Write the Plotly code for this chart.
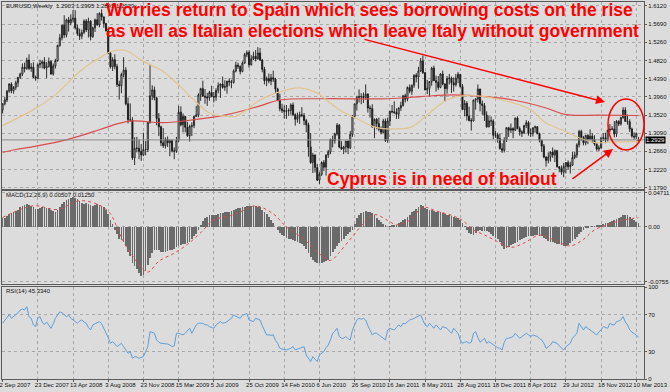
import pandas as pd
import plotly.graph_objects as go
from plotly.subplots import make_subplots

# ---------------- data (weekly EURUSD) ----------------
weeks = pd.date_range("2007-09-02", periods=290, freq="7D")

opens = [
1.364,1.379,1.388,1.409,1.426,1.410,1.418,1.429,1.442,1.450,
1.466,1.463,1.483,1.463,1.466,1.442,1.440,1.472,1.475,1.479,
1.464,1.468,1.480,1.450,1.469,1.482,1.518,1.536,1.566,1.543,
1.579,1.572,1.580,1.583,1.560,1.546,1.540,1.549,1.576,1.555,
1.576,1.539,1.560,1.579,1.567,1.594,1.586,1.570,1.553,1.500,
1.467,1.484,1.468,1.425,1.422,1.449,1.459,1.379,1.341,1.340,
1.250,1.273,1.273,1.265,1.257,1.270,1.270,1.334,1.398,1.412,
1.393,1.344,1.324,1.286,1.279,1.294,1.286,1.291,1.267,1.266,
1.292,1.359,1.329,1.349,1.323,1.303,1.325,1.327,1.349,1.352,
1.400,1.415,1.397,1.395,1.393,1.406,1.396,1.395,1.411,1.422,
1.426,1.418,1.420,1.433,1.431,1.430,1.457,1.471,1.468,1.456,
1.476,1.496,1.501,1.472,1.486,1.492,1.486,1.500,1.483,1.461,
1.434,1.439,1.433,1.441,1.438,1.414,1.387,1.367,1.363,1.361,
1.362,1.363,1.376,1.353,1.342,1.348,1.353,1.351,1.339,1.329,
1.276,1.239,1.257,1.227,1.197,1.211,1.239,1.228,1.257,1.264,
1.294,1.291,1.307,1.328,1.276,1.271,1.276,1.290,1.274,1.306,
1.349,1.379,1.394,1.396,1.396,1.394,1.402,1.369,1.368,1.324,
1.342,1.332,1.318,1.311,1.338,1.291,1.338,1.361,1.360,1.358,
1.354,1.369,1.375,1.398,1.390,1.418,1.409,1.423,1.447,1.443,
1.457,1.481,1.453,1.412,1.416,1.432,1.464,1.434,1.430,1.418,
1.450,1.426,1.415,1.439,1.440,1.429,1.424,1.440,1.449,1.420,
1.365,1.380,1.350,1.339,1.338,1.388,1.390,1.414,1.379,1.375,
1.352,1.324,1.338,1.338,1.304,1.305,1.296,1.272,1.268,1.293,
1.322,1.316,1.320,1.316,1.345,1.320,1.312,1.309,1.327,1.334,
1.308,1.308,1.322,1.324,1.308,1.292,1.278,1.252,1.244,1.252,
1.264,1.257,1.267,1.229,1.225,1.216,1.230,1.239,1.229,1.233,
1.251,1.257,1.281,1.313,1.298,1.286,1.304,1.295,1.302,1.294,
1.283,1.271,1.274,1.297,1.298,1.293,1.316,1.318,1.319,1.307,
1.337,1.331,1.346,1.364,1.337,1.336,1.319,1.302,1.300,1.2903]

highs = [
1.380,1.395,1.412,1.428,1.430,1.421,1.434,1.443,1.453,1.475,
1.477,1.489,1.497,1.476,1.478,1.446,1.475,1.484,1.483,1.490,
1.478,1.489,1.482,1.475,1.486,1.520,1.545,1.568,1.590,1.582,
1.586,1.592,1.602,1.602,1.568,1.558,1.556,1.580,1.581,1.584,
1.578,1.563,1.582,1.595,1.597,1.604,1.587,1.572,1.556,1.503,
1.490,1.497,1.474,1.434,1.453,1.490,1.466,1.394,1.380,1.347,
1.299,1.300,1.294,1.283,1.310,1.290,1.337,1.472,1.423,1.420,
1.396,1.357,1.327,1.321,1.299,1.301,1.294,1.294,1.275,1.300,
1.374,1.373,1.356,1.350,1.336,1.329,1.335,1.351,1.374,1.404,
1.417,1.434,1.414,1.405,1.410,1.422,1.407,1.416,1.430,1.427,
1.444,1.435,1.433,1.440,1.436,1.461,1.479,1.477,1.470,1.480,
1.500,1.506,1.506,1.495,1.503,1.507,1.514,1.512,1.486,1.467,
1.444,1.451,1.450,1.458,1.441,1.417,1.403,1.379,1.375,1.376,
1.368,1.380,1.382,1.356,1.358,1.360,1.371,1.357,1.343,1.334,
1.309,1.262,1.258,1.236,1.216,1.242,1.245,1.258,1.269,1.296,
1.303,1.310,1.333,1.331,1.290,1.279,1.291,1.291,1.314,1.352,
1.379,1.398,1.413,1.404,1.406,1.425,1.404,1.375,1.378,1.344,
1.345,1.346,1.325,1.343,1.344,1.346,1.362,1.376,1.385,1.368,
1.370,1.384,1.400,1.403,1.420,1.425,1.425,1.449,1.452,1.467,
1.488,1.494,1.455,1.436,1.432,1.467,1.470,1.446,1.445,1.452,
1.458,1.428,1.445,1.450,1.444,1.442,1.450,1.455,1.450,1.426,
1.388,1.385,1.372,1.345,1.388,1.392,1.425,1.415,1.387,1.381,
1.361,1.350,1.349,1.342,1.314,1.310,1.308,1.285,1.299,1.323,
1.324,1.332,1.323,1.346,1.349,1.325,1.316,1.329,1.340,1.338,
1.320,1.322,1.327,1.326,1.310,1.293,1.283,1.254,1.263,1.265,
1.275,1.270,1.269,1.230,1.232,1.238,1.240,1.244,1.241,1.264,
1.264,1.285,1.317,1.317,1.302,1.304,1.306,1.318,1.309,1.304,
1.286,1.280,1.300,1.309,1.310,1.317,1.331,1.326,1.338,1.340,
1.340,1.348,1.371,1.371,1.353,1.342,1.322,1.311,1.311,1.2995]

lows = [
1.356,1.375,1.383,1.405,1.404,1.403,1.412,1.419,1.438,1.445,
1.454,1.460,1.459,1.455,1.440,1.434,1.437,1.464,1.463,1.461,
1.440,1.465,1.448,1.446,1.463,1.479,1.515,1.530,1.536,1.537,
1.551,1.566,1.573,1.556,1.541,1.531,1.533,1.545,1.550,1.537,
1.530,1.536,1.550,1.565,1.561,1.577,1.560,1.551,1.497,1.463,
1.457,1.461,1.419,1.389,1.404,1.442,1.375,1.332,1.337,1.245,
1.233,1.263,1.247,1.243,1.254,1.256,1.264,1.332,1.388,1.387,
1.328,1.302,1.278,1.274,1.272,1.276,1.254,1.263,1.247,1.262,
1.288,1.325,1.311,1.311,1.300,1.289,1.302,1.321,1.348,1.347,
1.386,1.396,1.379,1.374,1.386,1.395,1.382,1.386,1.404,1.393,
1.415,1.410,1.403,1.421,1.416,1.427,1.454,1.462,1.449,1.454,
1.474,1.490,1.465,1.470,1.483,1.480,1.484,1.481,1.454,1.425,
1.421,1.428,1.423,1.431,1.403,1.385,1.361,1.357,1.344,1.343,
1.350,1.353,1.350,1.327,1.334,1.331,1.347,1.328,1.311,1.253,
1.236,1.214,1.215,1.195,1.188,1.207,1.219,1.208,1.250,1.259,
1.275,1.284,1.303,1.273,1.269,1.259,1.263,1.259,1.271,1.300,
1.346,1.363,1.382,1.378,1.381,1.389,1.358,1.346,1.322,1.297,
1.318,1.313,1.306,1.308,1.288,1.286,1.326,1.356,1.355,1.343,
1.343,1.362,1.372,1.382,1.385,1.404,1.400,1.417,1.430,1.415,
1.455,1.450,1.411,1.402,1.397,1.422,1.434,1.408,1.412,1.416,
1.423,1.384,1.403,1.425,1.405,1.408,1.420,1.428,1.418,1.364,
1.349,1.339,1.337,1.315,1.337,1.365,1.382,1.361,1.353,1.338,
1.322,1.323,1.326,1.295,1.298,1.286,1.270,1.262,1.263,1.288,
1.300,1.309,1.297,1.314,1.318,1.303,1.300,1.308,1.321,1.303,
1.300,1.301,1.310,1.306,1.287,1.264,1.249,1.229,1.237,1.241,
1.250,1.240,1.227,1.216,1.210,1.204,1.213,1.222,1.213,1.231,
1.247,1.250,1.275,1.291,1.280,1.280,1.283,1.292,1.286,1.279,
1.267,1.266,1.272,1.290,1.285,1.289,1.311,1.316,1.299,1.300,
1.326,1.327,1.343,1.336,1.329,1.312,1.298,1.294,1.295,1.2843]

closes = [
1.379,1.388,1.409,1.426,1.410,1.418,1.429,1.442,1.450,1.466,
1.463,1.483,1.463,1.466,1.442,1.440,1.472,1.475,1.479,1.464,
1.468,1.480,1.450,1.469,1.482,1.518,1.536,1.566,1.543,1.579,
1.572,1.580,1.583,1.560,1.546,1.540,1.549,1.576,1.555,1.576,
1.539,1.560,1.579,1.567,1.594,1.586,1.570,1.553,1.500,1.467,
1.484,1.468,1.425,1.422,1.449,1.459,1.379,1.341,1.340,1.250,
1.273,1.273,1.265,1.257,1.270,1.270,1.334,1.398,1.412,1.393,
1.344,1.324,1.286,1.279,1.294,1.286,1.291,1.267,1.266,1.292,
1.359,1.329,1.349,1.323,1.303,1.325,1.327,1.349,1.352,1.400,
1.415,1.397,1.395,1.393,1.406,1.396,1.395,1.411,1.422,1.426,
1.418,1.420,1.433,1.431,1.430,1.457,1.471,1.468,1.456,1.476,
1.496,1.501,1.472,1.486,1.492,1.486,1.500,1.483,1.461,1.434,
1.439,1.433,1.441,1.438,1.414,1.387,1.367,1.363,1.361,1.362,
1.363,1.376,1.353,1.342,1.348,1.353,1.351,1.339,1.329,1.276,
1.239,1.257,1.227,1.197,1.211,1.239,1.228,1.257,1.264,1.294,
1.291,1.307,1.328,1.276,1.271,1.276,1.290,1.274,1.306,1.349,
1.379,1.394,1.396,1.396,1.394,1.402,1.369,1.368,1.324,1.342,
1.332,1.318,1.311,1.338,1.291,1.338,1.361,1.360,1.358,1.354,
1.369,1.375,1.398,1.390,1.418,1.409,1.423,1.447,1.443,1.457,
1.481,1.453,1.412,1.416,1.432,1.464,1.434,1.430,1.418,1.450,
1.426,1.415,1.439,1.440,1.429,1.424,1.440,1.449,1.420,1.365,
1.380,1.350,1.339,1.338,1.388,1.390,1.414,1.379,1.375,1.352,
1.324,1.338,1.338,1.304,1.305,1.296,1.272,1.268,1.293,1.322,
1.316,1.320,1.316,1.345,1.320,1.312,1.309,1.327,1.334,1.308,
1.308,1.322,1.324,1.308,1.292,1.278,1.252,1.244,1.252,1.264,
1.257,1.267,1.229,1.225,1.216,1.230,1.239,1.229,1.233,1.251,
1.257,1.281,1.313,1.298,1.286,1.304,1.295,1.302,1.294,1.283,
1.271,1.274,1.297,1.298,1.293,1.316,1.318,1.319,1.307,1.337,
1.331,1.346,1.364,1.337,1.336,1.319,1.302,1.300,1.308,1.2929]

# moving averages, read at sampled weeks
ma_slow_weeks = [0,6,14,29,44,52,59,73,87,102,117,126,146,175,190,205,219,232,247,256,271,289]
ma_slow = [1.263,1.270,1.277,1.293,1.317,1.331,1.338,1.334,1.341,1.353,1.374,1.388,
           1.391,1.391,1.396,1.400,1.396,1.388,1.369,1.353,1.352,1.351]
ma_fast_weeks = [0,14,23,36,44,49,56,64,73,79,87,94,102,106,111,117,125,135,143,146,153,
                 162,170,179,186,194,202,211,219,232,240,247,256,262,270,277,289]
ma_fast = [1.327,1.365,1.396,1.460,1.488,1.503,1.506,1.480,1.456,1.429,1.388,1.357,1.349,
           1.349,1.365,1.388,1.406,1.417,1.405,1.393,1.365,1.341,1.322,1.319,1.324,1.357,
           1.388,1.399,1.396,1.381,1.365,1.333,1.313,1.298,1.286,1.288,1.289]

macd = [
0.012,0.013,0.015,0.018,0.019,0.020,0.022,0.024,0.027,0.029,
0.030,0.031,0.030,0.029,0.027,0.025,0.025,0.026,0.027,0.027,
0.026,0.026,0.024,0.022,0.021,0.023,0.027,0.032,0.034,0.037,
0.039,0.040,0.041,0.040,0.038,0.035,0.033,0.032,0.033,0.032,
0.030,0.029,0.030,0.031,0.030,0.029,0.027,0.024,0.018,0.010,
0.004,-0.004,-0.010,-0.016,-0.018,-0.020,-0.026,-0.034,-0.040,-0.050,
-0.054,-0.058,-0.063,-0.067,-0.066,-0.060,-0.052,-0.043,-0.036,-0.032,
-0.031,-0.032,-0.034,-0.035,-0.034,-0.033,-0.032,-0.031,-0.030,-0.028,
-0.026,-0.025,-0.024,-0.024,-0.022,-0.020,-0.017,-0.013,-0.009,-0.004,
0.003,0.008,0.012,0.014,0.016,0.017,0.017,0.017,0.018,0.019,
0.019,0.020,0.020,0.021,0.022,0.023,0.025,0.026,0.026,0.027,
0.028,0.029,0.029,0.029,0.029,0.029,0.028,0.027,0.024,0.021,
0.018,0.014,0.010,0.005,0.000,-0.004,-0.008,-0.011,-0.013,-0.015,
-0.016,-0.017,-0.018,-0.019,-0.020,-0.022,-0.024,-0.026,-0.030,-0.036,
-0.041,-0.045,-0.048,-0.050,-0.050,-0.049,-0.048,-0.047,-0.045,-0.040,
-0.035,-0.030,-0.026,-0.022,-0.019,-0.017,-0.013,-0.010,-0.007,-0.004,
0.004,0.012,0.016,0.019,0.021,0.022,0.021,0.020,0.019,0.017,
0.013,0.010,0.007,0.004,0.002,0.000,0.001,0.002,0.003,0.003,
0.005,0.007,0.009,0.011,0.014,0.017,0.020,0.022,0.025,0.028,
0.030,0.029,0.026,0.025,0.024,0.023,0.022,0.021,0.020,0.020,
0.019,0.018,0.017,0.016,0.015,0.014,0.013,0.012,0.010,0.005,
0.001,-0.004,-0.008,-0.010,-0.011,-0.008,-0.005,-0.004,-0.005,-0.005,
-0.006,-0.007,-0.009,-0.012,-0.015,-0.017,-0.021,-0.026,-0.030,-0.029,
-0.027,-0.025,-0.024,-0.022,-0.020,-0.018,-0.016,-0.015,-0.014,-0.013,
-0.012,-0.012,-0.011,-0.011,-0.012,-0.013,-0.015,-0.017,-0.019,-0.020,
-0.021,-0.022,-0.023,-0.024,-0.025,-0.026,-0.026,-0.025,-0.022,-0.019,
-0.016,-0.014,-0.010,-0.007,-0.004,-0.002,-0.001,0.000,0.001,0.001,
0.002,0.002,0.003,0.004,0.005,0.006,0.007,0.008,0.009,0.011,
0.012,0.014,0.016,0.017,0.016,0.014,0.011,0.009,0.007,0.00507]

signal_weeks = [0,14,25,35,44,49,53,56,59,62,66,71,78,84,90,96,102,109,115,123,129,137,144,
                149,153,159,164,169,175,179,185,191,197,205,209,214,219,223,231,237,244,250,
                258,264,269,275,281,287,289]
signal = [0.013,0.029,0.024,0.036,0.030,0.018,-0.008,-0.026,-0.039,-0.052,-0.062,-0.047,
          -0.036,-0.024,-0.008,0.010,0.014,0.022,0.029,0.018,0.000,-0.017,-0.037,-0.046,
          -0.035,-0.013,0.005,0.017,0.009,0.003,0.009,0.027,0.022,0.015,0.009,-0.004,
          -0.011,-0.017,-0.028,-0.022,-0.011,-0.017,-0.026,-0.017,-0.004,0.003,0.009,
          0.012,0.0125]

rsi = [
60.6,64,67.8,70,66,68,69,72,75,76,
75,78.7,67.8,66,58.8,57,66,67.8,62,59,
62,58,55,60,66,69.6,73,72,70,67.8,
69.6,66,64.2,62,60.6,63,64.2,62,60.6,56,
53.3,58.8,60,61,62.4,60,55,51,45,38.8,
40.6,38,35.2,37,38.8,35.2,31,27.9,29.8,22.5,
24.3,24,22.5,23,24.3,30,35.2,51.5,50.5,49.7,
42.4,40,38.8,38.8,38.8,38,37,35.2,36,49.7,
49.7,49,47.9,49.7,52,55.1,49.7,55,58.8,60.6,
60.6,60.6,59,58.8,56.9,56,55.1,58.8,61,62.4,
60.6,61,62.4,64.2,66,69.6,67.8,67,66,69.6,
70,71.4,64.2,63,62.4,66,65,64.2,58,53.3,
47.9,48,47.5,47.9,42,38.8,33.4,32.5,32,31.6,
32.5,33.4,35.2,31.6,32.5,33.4,34,35.2,26.1,22,
18.9,24.3,21,18.9,26.1,28,29.8,34,37,42.4,
49.7,52,55.1,46.1,44.3,44.3,46.1,44,42.4,53.3,
58,64.2,66,65,66,64.2,58,53.3,47.9,49.7,
49.7,47.9,46.1,44,42.4,53.3,55.1,54,53.3,56,
58.8,56.9,60.6,60,62.4,64.2,64.8,66,67.8,69,
69.6,64,58.8,56.9,60.6,58,55.1,58.8,56,53.3,
56.9,56,55.1,52,49.7,55.1,52,49.7,42.4,38.8,
40,40.6,38.8,40,49.7,51.5,45,40,42,44.3,
38.8,40.6,39,37,35.2,34,33.4,31.6,40,44.3,
44.3,45,46.1,49.7,47,44.3,46,47.9,49.7,48,
46.1,47.9,47,46.1,44,42.4,38.8,33.4,35,37,
40.6,39.5,38.8,36,33.4,31.6,35,37,38.8,44.3,
47,49.7,60.6,57,53.3,56.9,55,53.3,51,49.7,
47.9,51,53.3,56.9,56,55.1,60.6,59,58.8,62.4,
63,64.2,67.8,62,58.8,53.3,51,49.7,47.9,45.334]

price_ticks = [1.6120,1.5690,1.5260,1.4820,1.4390,1.3960,1.3520,1.3090,1.2660,1.2220,1.1790]
macd_ticks = [0.04711, 0.0, -0.0755]
macd_tick_text = ["0.04711", "0.00", "-0.0755"]
rsi_ticks = [100, 70, 30, 0]
date_tick_weeks = list(range(0, 290, 16))

for name, arr in [("opens", opens), ("highs", highs), ("lows", lows), ("closes", closes),
                  ("macd", macd), ("rsi", rsi)]:
    if len(arr) != len(weeks):
        raise SystemExit(f"{name} has {len(arr)} values")

# ---------------- geometry helpers ----------------
W, H = 670, 392
ML, MR, MT, MB = 2, 26, 2, 13
PW, PH = W - ML - MR, H - MT - MB


def px(x):
    return (x - ML) / PW


def py(y):
    return (H - MB - y) / PH


BG = "#dcdcdc"
FRAME = "#5a5a5a"
GRID = "#a8a8a8"
FAM = "Liberation Sans, Arial, sans-serif"
SMALL = dict(family=FAM, size=6.0, color="#111111")
RED = "#ff0000"

fig = make_subplots(rows=3, cols=1, shared_xaxes=True, vertical_spacing=0)

fig.add_trace(go.Candlestick(
    x=weeks, open=opens, high=highs, low=lows, close=closes,
    increasing=dict(line=dict(color="#1a1a1a", width=0.9), fillcolor="#f4f4f4"),
    decreasing=dict(line=dict(color="#1a1a1a", width=0.9), fillcolor="#1a1a1a"),
    whiskerwidth=0, showlegend=False, hoverinfo="skip"), row=1, col=1)

fig.add_trace(go.Scatter(x=[weeks[i] for i in ma_slow_weeks], y=ma_slow, mode="lines",
                         line=dict(color="#d94c4c", width=1.2, shape="spline"),
                         hoverinfo="skip"), row=1, col=1)
fig.add_trace(go.Scatter(x=[weeks[i] for i in ma_fast_weeks], y=ma_fast, mode="lines",
                         line=dict(color="#e2c48e", width=1.2, shape="spline"),
                         hoverinfo="skip"), row=1, col=1)

fig.add_trace(go.Bar(x=weeks, y=macd, width=2.4 * 86400000,
                     marker=dict(color="#6a6a6a", line=dict(width=0)),
                     hoverinfo="skip"), row=2, col=1)
fig.add_trace(go.Scatter(x=[weeks[i] for i in signal_weeks], y=signal, mode="lines",
                         line=dict(color="#e04848", width=1, dash="dot", shape="spline"),
                         hoverinfo="skip"), row=2, col=1)

fig.add_trace(go.Scatter(x=weeks, y=rsi, mode="lines",
                         line=dict(color="#5d9fdc", width=1), hoverinfo="skip"),
              row=3, col=1)

# bid line
fig.add_hline(y=closes[-1], row=1, col=1, line=dict(color="#8a8a8a", width=1))

x_range = [weeks[0] - pd.Timedelta(days=1.9), weeks[-1] + pd.Timedelta(days=17.5)]
tickvals_x = [weeks[i] for i in date_tick_weeks]
ticktext_x = [f"{d.day} {d.strftime('%b %Y')}" for d in tickvals_x]

axis_common = dict(showline=True, linecolor=FRAME, linewidth=1, mirror=True,
                   zeroline=False, showgrid=True, gridcolor=GRID, griddash="dot",
                   gridwidth=1, automargin=False)

for i in (1, 2, 3):
    fig.update_xaxes(row=i, col=1, range=x_range, tickvals=tickvals_x, ticktext=ticktext_x,
                     showticklabels=(i == 3), ticks="outside" if i == 3 else "",
                     ticklen=2, tickcolor=FRAME, tickfont=SMALL, tickangle=0,
                     rangeslider_visible=False, **axis_common)
fig.update_xaxes(row=3, col=1, ticklabelposition="outside right", ticklabeloverflow="allow",
                 ticklabelshift=-4)

fig.update_yaxes(row=1, col=1, side="right", range=[1.1759, 1.6215], tickvals=price_ticks,
                 ticktext=[f"{v:.4f}" for v in price_ticks], ticks="outside", ticklen=2,
                 tickcolor=FRAME, tickfont=SMALL, **axis_common)
fig.update_yaxes(row=2, col=1, side="right", range=[-0.0783, 0.0494], tickvals=macd_ticks,
                 ticktext=macd_tick_text, ticks="outside", ticklen=2, tickcolor=FRAME,
                 tickfont=SMALL, **axis_common)
fig.update_yaxes(row=3, col=1, side="right", range=[0, 100], tickvals=rsi_ticks,
                 ticks="outside", ticklen=2, tickcolor=FRAME, tickfont=SMALL, **axis_common)

fig.update_layout(
    width=W, height=H, margin=dict(l=ML, r=MR, t=MT, b=MB, autoexpand=False),
    paper_bgcolor=BG, plot_bgcolor=BG, showlegend=False, bargap=0,
    yaxis=dict(domain=[py(189), 1.0]),
    yaxis2=dict(domain=[py(284), py(191)]),
    yaxis3=dict(domain=[0.0, py(287)]),
)

ann = []
ann.append(dict(text=f"EURUSD,Weekly\u00a0\u00a0{opens[-1]:.4f} {highs[-1]:.4f} "
                     f"{lows[-1]:.4f} {closes[-1]:.4f}",
                xref="paper", yref="paper", x=px(4), y=py(6), xanchor="left",
                yanchor="middle", showarrow=False, font=SMALL))
ann.append(dict(text=f"MACD(12,26,9) {macd[-1]:.5f} {signal[-1]:.5f}",
                xref="paper", yref="paper", x=px(4), y=py(195), xanchor="left",
                yanchor="middle", showarrow=False, font=SMALL))
ann.append(dict(text=f"RSI(14) {rsi[-1]:.4f}",
                xref="paper", yref="paper", x=px(4), y=py(291), xanchor="left",
                yanchor="middle", showarrow=False, font=SMALL))
# bid price tag on the axis
ann.append(dict(text=f"{closes[-1]:.4f}", xref="paper", yref="y", x=1.0, y=closes[-1],
                xanchor="left", yanchor="middle", xshift=1, showarrow=False,
                bgcolor="#000000", borderpad=0,
                font=dict(family=FAM, size=6.0, color="#ffffff")))

BIG = dict(family=FAM, size=17.5, color=RED, weight="bold")
ann.append(dict(text="Worries return to Spain which sees borrowing costs on the rise",
                xref="paper", yref="paper", x=px(104), y=py(10), xanchor="left",
                yanchor="middle", showarrow=False, font=BIG))
ann.append(dict(text="as well as Italian elections which leave Italy without government",
                xref="paper", yref="paper", x=px(104), y=py(31), xanchor="left",
                yanchor="middle", showarrow=False, font=BIG))
ann.append(dict(text="Cyprus is in need of bailout",
                xref="paper", yref="paper", x=px(325), y=py(179), xanchor="left",
                yanchor="middle", showarrow=False, font=BIG))
# arrows
ann.append(dict(text="", xref="paper", yref="paper", x=px(605), y=py(102),
                ax=363 - 605, ay=39 - 102, showarrow=True, arrowhead=2, arrowsize=1.2,
                arrowwidth=1.5, arrowcolor=RED, standoff=0))
ann.append(dict(text="", xref="paper", yref="paper", x=px(613), y=py(149),
                ax=571 - 613, ay=180 - 149, showarrow=True, arrowhead=2, arrowsize=1.2,
                arrowwidth=1.5, arrowcolor=RED, standoff=0))
fig.update_layout(annotations=ann)

fig.add_shape(type="circle", xref="paper", yref="paper", x0=px(608), x1=px(644),
              y0=py(150), y1=py(99), line=dict(color=RED, width=1.5))

fig.write_html("out.html", config={"displayModeBar": False},
               post_script="document.body.style.margin='0';"
                           "document.body.style.overflow='hidden';")
